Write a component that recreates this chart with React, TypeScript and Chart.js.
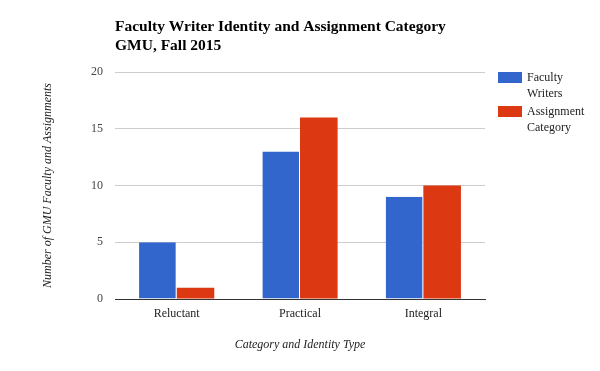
import React, { useEffect, useRef } from "react";
import { Chart, registerables } from "chart.js";

Chart.register(...registerables);

const categories = ["Reluctant", "Practical", "Integral"];
const facultyWriters = [5, 13, 9];
const assignmentCategory = [1, 16, 10];
const seriesNames = [["Faculty", "Writers"], ["Assignment", "Category"]];
const seriesColors = ["#3366cc", "#dc3912"];
const titleLines = ["Faculty Writer Identity and Assignment Category", "GMU, Fall 2015"];
const yTitle = "Number of GMU Faculty and Assignments";
const xTitle = "Category and Identity Type";

const FONT = "'Liberation Serif', 'Times New Roman', serif";

const decorPlugin = {
  id: "decor",
  afterDraw(chart: any) {
    const ctx = chart.ctx;
    ctx.save();
    ctx.fillStyle = "#000";
    ctx.font = `bold 15.5px ${FONT}`;
    ctx.textBaseline = "alphabetic";
    ctx.textAlign = "left";
    const left = chart.chartArea.left;
    titleLines.forEach((t, i) => ctx.fillText(t, left, 31 + i * 18.5));
    // legend
    ctx.font = `12px ${FONT}`;
    ctx.textBaseline = "middle";
    seriesNames.forEach((lines, i) => {
      const y0 = 72 + i * 34;
      ctx.fillStyle = seriesColors[i];
      ctx.fillRect(498, y0, 24, 11);
      ctx.fillStyle = "#222";
      lines.forEach((l, j) => ctx.fillText(l, 527, y0 + 5.5 + j * 16));
    });
    ctx.restore();
  },
};

export default function App() {
  const ref = useRef<HTMLCanvasElement>(null);
  useEffect(() => {
    if (!ref.current) return;
    const chart = new Chart(ref.current, {
      type: "bar",
      data: {
        labels: categories,
        datasets: [
          {
            label: seriesNames[0].join(" "),
            data: facultyWriters,
            backgroundColor: seriesColors[0],
            borderColor: "#ffffff",
            borderWidth: { right: 1, left: 0, top: 0, bottom: 0 },
            borderSkipped: false,
            categoryPercentage: 0.61,
            barPercentage: 1.0,
          },
          {
            label: seriesNames[1].join(" "),
            data: assignmentCategory,
            backgroundColor: seriesColors[1],
            borderWidth: 0,
            categoryPercentage: 0.61,
            barPercentage: 1.0,
          },
        ],
      },
      options: {
        animation: false,
        responsive: false,
        maintainAspectRatio: false,
        layout: { padding: { left: 0, right: 115, top: 72, bottom: 0 } },
        plugins: {
          legend: { display: false },
          title: { display: false },
          tooltip: { enabled: false },
        },
        scales: {
          x: {
            grid: { display: false, drawTicks: false },
            border: { display: true, color: "#333333", width: 1 },
            ticks: {
              color: "#222",
              font: { family: FONT, size: 12 },
              padding: 8,
            },
            title: {
              display: true,
              text: xTitle,
              color: "#222",
              font: { family: FONT, size: 12, style: "italic" },
              padding: { top: 0, bottom: 19 },
            },
            afterFit: (s: any) => {
              s.height = 72;
            },
          },
          y: {
            min: 0,
            max: 20,
            ticks: {
              stepSize: 5,
              color: "#444",
              font: { family: FONT, size: 12 },
              padding: 12,
            },
            grid: {
              drawTicks: false,
              color: (c: any) => (c.tick && c.tick.value === 0 ? "#333333" : "#cccccc"),
            },
            border: { display: false },
            title: {
              display: true,
              text: yTitle,
              color: "#222",
              font: { family: FONT, size: 12, style: "italic" },
              padding: { top: 41, bottom: 0 },
            },
            afterFit: (s: any) => {
              s.width = 115;
            },
          },
        },
      },
      plugins: [decorPlugin],
    });
    return () => chart.destroy();
  }, []);
  return (
    <div style={{ position: "fixed", left: 0, top: 0, width: 600, height: 371, background: "#fff" }}>
      <canvas ref={ref} width={600} height={371} style={{ display: "block" }} />
    </div>
  );
}
